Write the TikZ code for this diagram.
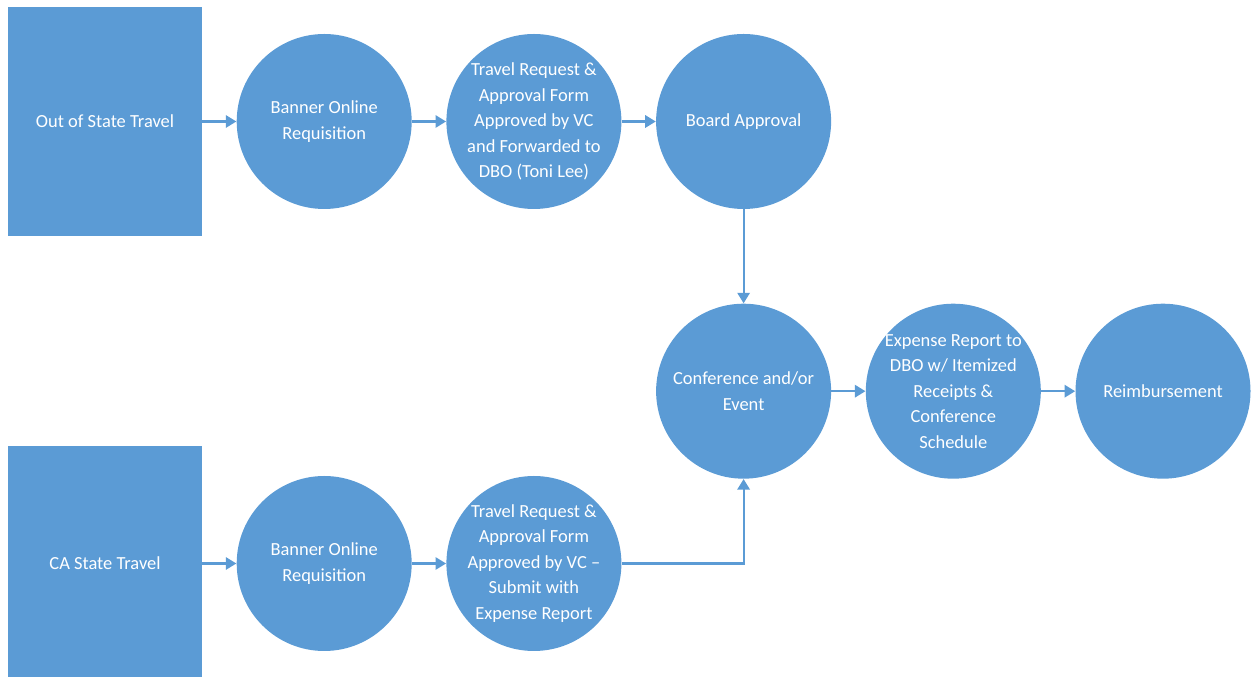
\documentclass[tikz,border=0pt]{standalone}
\usepackage{fontspec}
\setmainfont{Carlito}
\usetikzlibrary{positioning,arrows.meta}
\definecolor{officeblue}{HTML}{5B9BD5}

\begin{document}
\begin{tikzpicture}[node distance=0.68cm,
travel/.style={
  font={\color{white} \fontsize{10.5pt}{14.5pt}\selectfont},
  align=center,
  fill=officeblue},
origin/.style={
  travel,
  minimum width=3.88cm,
  minimum height=4.58cm},
stage/.style={
  travel,
  circle,
  minimum size=3.5cm,
  inner sep=-2pt},
flow/.style={
  officeblue,
  line width=1.2pt,
  -{Triangle[length=6pt,width=7pt]}},
]
\useasboundingbox (0,0) rectangle (25.02,13.54);

\node[origin] (OST) at (2.1,11.11) {Out of State Travel};
\node[stage,right=of OST] (BOR1) {Banner Online\\Requisition};
\node[stage,right=of BOR1] (TRA1) {Travel Request \&\\Approval Form\\Approved by VC\\and Forwarded to\\DBO (Toni Lee)};
\node[stage,right=of TRA1] (BA) {Board Approval};

\node[stage,below=1.88cm of BA] (CE) {Conference and/or\\Event};
\node[stage,right=of CE] (ER) {Expense Report to\\DBO w/ Itemized\\Receipts \&\\Conference\\Schedule};
\node[stage,right=of ER] (RB) {Reimbursement};

\node[origin,minimum height=4.7cm] (CAST) at (2.1,2.27) {CA State Travel};
\node[stage,right=of CAST] (BOR2) {Banner Online\\Requisition};
\node[stage,right=of BOR2] (TRA2) {Travel Request \&\\Approval Form\\Approved by VC --\\Submit with\\Expense Report};

\draw[flow] (OST) -- (BOR1);
\draw[flow] (BOR1) -- (TRA1);
\draw[flow] (TRA1) -- (BA);
\draw[flow] (BA) -- (CE);
\draw[flow] (CE) -- (ER);
\draw[flow] (ER) -- (RB);
\draw[flow] (CAST) -- (BOR2);
\draw[flow] (BOR2) -- (TRA2);
\draw[flow] (TRA2) -| (CE);

\end{tikzpicture}
\end{document}
